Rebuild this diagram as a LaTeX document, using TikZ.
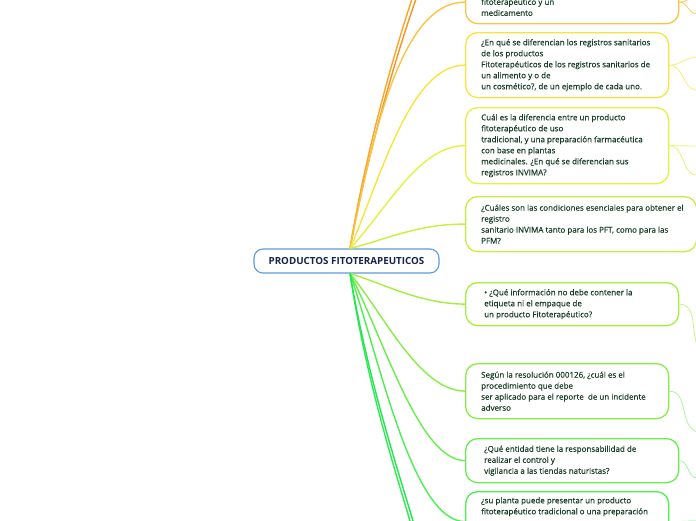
\documentclass[tikz,border=0pt]{standalone}
\usepackage{fontspec}
\setmainfont{Open Sans}
\newfontfamily\qfont[FakeBold=0.25]{Open Sans}
\definecolor{txt}{HTML}{163D26}
\definecolor{ctxt}{HTML}{14244A}
\definecolor{cbord}{HTML}{5D9CD8}
\definecolor{lo1}{HTML}{F7931E}
\definecolor{lo2}{HTML}{FBA62A}
\definecolor{b1}{HTML}{F9C440}
\definecolor{b2}{HTML}{F8E43C}
\definecolor{b3}{HTML}{E2F23E}
\definecolor{b4}{HTML}{C6F03C}
\definecolor{b5}{HTML}{A6EE3C}
\definecolor{b6}{HTML}{88EE44}
\definecolor{b7}{HTML}{68EE4C}
\definecolor{b8}{HTML}{4CEE50}
\definecolor{lb1}{HTML}{30EC50}
\definecolor{lb2}{HTML}{22E650}
\definecolor{r1}{HTML}{F9CE5A}
\definecolor{r2}{HTML}{F8EC74}
\definecolor{r3}{HTML}{E6F472}
\definecolor{r5}{HTML}{C4F28E}
\definecolor{r6}{HTML}{B0F29E}
\definecolor{r7}{HTML}{A6F0AA}
\definecolor{r8}{HTML}{8CF098}
\tikzset{
  qbox/.style={draw, line width=1.3pt, rounded corners=12pt, fill=white, inner sep=0pt, anchor=north west},
  qtext/.style={anchor=west, align=left, text=txt, inner sep=0pt, font=\qfont\fontsize{8}{11}\selectfont},
  cnode/.style={draw=cbord, line width=1.1pt, rounded corners=9pt, fill=white, minimum width=185pt, minimum height=24pt, inner sep=0pt, text=ctxt, font=\fontsize{9.8}{11}\selectfont\bfseries},
  conn/.style={line width=1.4pt},
  sub/.style={line width=0.8pt},
}
\begin{document}
\begin{tikzpicture}[x=1pt,y=-1pt]
\useasboundingbox (0,0) rectangle (696,520);
\clip (0,0) rectangle (696,520);
% boxes
\node[qbox, draw=b1, minimum width=213pt, minimum height=43pt] (n1) at (465,-20) {};
\node[qtext, anchor=north west] (t1) at (481,-1.5) {fitoterapéutico y un\\medicamento};
\node[qbox, draw=b2, minimum width=203pt, minimum height=65pt] (n2) at (465,32) {};
\node[qtext] (t2) at ([xshift=16pt]n2.west) {¿En qué se diferencian los registros sanitarios\\de los productos\\Fitoterapéuticos de los registros sanitarios de\\un alimento y o de\\un cosmético?, de un ejemplo de cada uno.};
\node[qbox, draw=b3, minimum width=203pt, minimum height=76pt] (n3) at (465,107) {};
\node[qtext] (t3) at ([xshift=16pt]n3.west) {Cuál es la diferencia entre un producto\\fitoterapéutico de uso\\tradicional, y una preparación farmacéutica\\con base en plantas\\medicinales. ¿En qué se diferencian sus\\registros INVIMA?};
\node[qbox, draw=b4, minimum width=231pt, minimum height=55pt] (n4) at (465,196) {};
\node[qtext] (t4) at ([xshift=16pt]n4.west) {¿Cuáles son las condiciones esenciales para obtener el\\registro\\sanitario INVIMA tanto para los PFT, como para las\\PFM?};
\node[qbox, draw=b5, minimum width=213pt, minimum height=43pt] (n5) at (465,282) {};
\node[qtext] (t5) at ([xshift=19pt]n5.west) {• ¿Qué información no debe contener la\\etiqueta ni el empaque de\\un producto Fitoterapéutico?};
\node[qbox, draw=b6, minimum width=203pt, minimum height=55pt] (n6) at (465,363) {};
\node[qtext] (t6) at ([xshift=16pt]n6.west) {Según la resolución 000126, ¿cuál es el\\procedimiento que debe\\ser aplicado para el reporte \ de un incidente\\adverso};
\node[qbox, draw=b7, minimum width=213pt, minimum height=44pt] (n7) at (465,438) {};
\node[qtext] (t7) at ([xshift=19pt]n7.west) {¿Qué entidad tiene la responsabilidad de\\realizar el control y\\vigilancia a las tiendas naturistas?};
\node[qbox, draw=b8, minimum width=203pt, minimum height=60pt] (n8) at (465,491) {};
\node[qtext, anchor=north west] (t8) at (481,497) {¿su planta puede presentar un producto\\fitoterapéutico tradicional o una preparación};
% central
\node[cnode] (c) at (346.5,261) {PRODUCTOS FITOTERAPEUTICOS};
\coordinate (ot) at ([xshift=3.5pt]c.north);
\coordinate (ob) at ([xshift=3.5pt]c.south);
\coordinate (xa) at (416,-1);
\coordinate (xb) at (412,-1);
\coordinate (xc) at (410,521);
\coordinate (xd) at (413,521);
% main connectors
\draw[conn, lo1] (ot) .. controls (368,150) and (398,50) .. (xa);
\draw[conn, lo2] (ot) .. controls (366,150) and (395,50) .. (xb);
\draw[conn, b1] (ot) .. controls (372,140) and (400,1.5) .. (n1.west);
\draw[conn, b2] (ot) .. controls (380,180) and (410,64.5) .. (n2.west);
\draw[conn, b3] (ot) .. controls (384.5,212.6) and (419,145) .. (n3.west);
\draw[conn, b4] (ot) .. controls (384.5,240) and (419,223.5) .. (n4.west);
\draw[conn, b5] (ob) .. controls (384.5,284) and (419,303.5) .. (n5.west);
\draw[conn, b6] (ob) .. controls (384.5,315) and (419,390.5) .. (n6.west);
\draw[conn, b7] (ob) .. controls (384.5,340) and (419,460) .. (n7.west);
\draw[conn, b8] (ob) .. controls (380,360) and (412,521) .. (n8.west);
\draw[conn, lb1] (ob) .. controls (366,380) and (395,470) .. (xc);
\draw[conn, lb2] (ob) .. controls (368,380) and (398,470) .. (xd);
% right sub connectors
\coordinate (s1a) at (697,-3);
\coordinate (s1b) at (697,14);
\coordinate (s2a) at (697,57);
\coordinate (s2b) at (697,90);
\coordinate (s3a) at (697,146);
\coordinate (s3b) at (697,175);
\coordinate (s5a) at (697,345);
\coordinate (s6a) at (697,432);
\coordinate (s7a) at (697,478);
\coordinate (s8a) at (697,521);
\draw[sub, r1] (n1.east) to[out=0,in=180] (s1a);
\draw[sub, r1] (n1.east) to[out=0,in=180] (s1b);
\draw[sub, r2] (n2.east) to[out=0,in=180] (s2a);
\draw[sub, r2] (n2.east) to[out=0,in=180] (s2b);
\draw[sub, r3] (n3.east) to[out=0,in=180] (s3a);
\draw[sub, r3] (n3.east) to[out=0,in=180] (s3b);
\draw[sub, r5] (n5.east) to[out=0,in=110] (s5a);
\draw[sub, r6] (n6.east) to[out=0,in=160] (s6a);
\draw[sub, r7] (n7.east) to[out=0,in=180] (s7a);
\draw[sub, r8] (n8.east) to[out=0,in=180] (s8a);
\end{tikzpicture}
\end{document}
